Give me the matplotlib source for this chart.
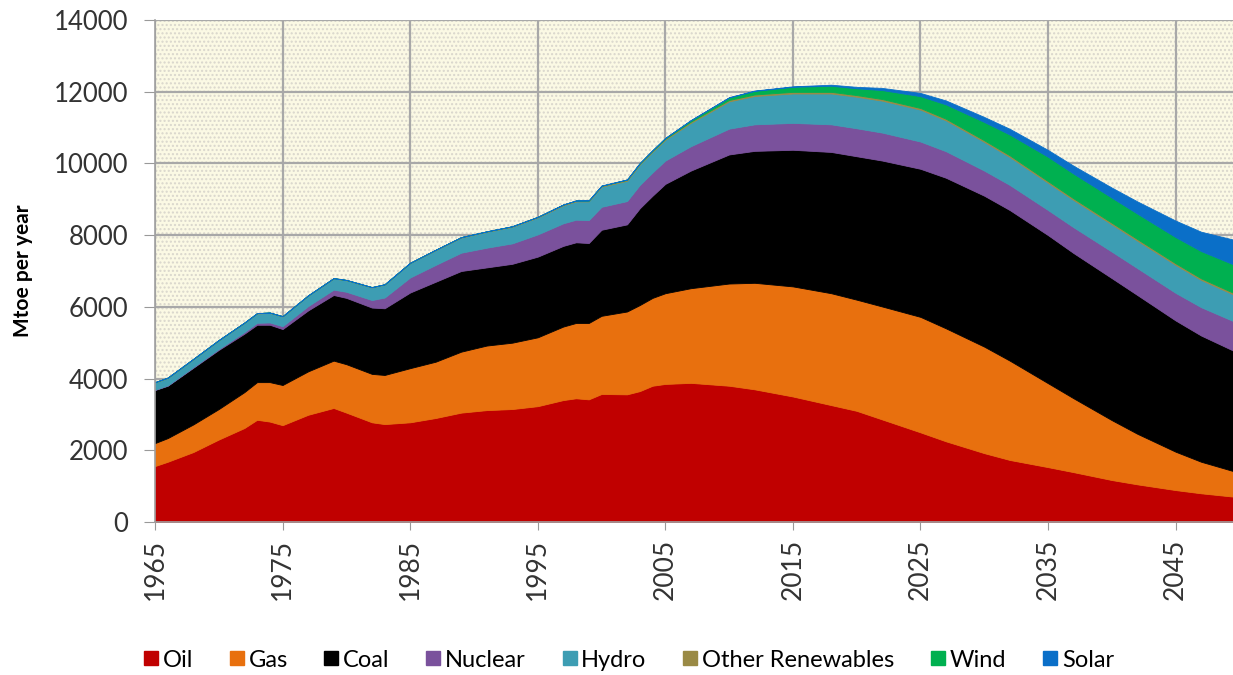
import matplotlib
matplotlib.use('agg')
import matplotlib.pyplot as plt
from matplotlib.patches import Rectangle
from matplotlib.lines import Line2D

plt.rcParams['font.family'] = ['Lato', 'DejaVu Sans']

# years the values were read at
years = [1965, 1966, 1968, 1970, 1972, 1973, 1974, 1975, 1977, 1979, 1980, 1982, 1983,
         1985, 1987, 1989, 1991, 1993, 1995, 1997, 1998, 1999, 2000, 2002, 2003, 2004,
         2005, 2007, 2010, 2012, 2015, 2018, 2020, 2022, 2025, 2027, 2030, 2032, 2035,
         2037, 2040, 2042, 2045, 2047, 2050]

# Mtoe per year, each series on its own (stacked in the plot)
oil = [1560, 1680, 1950, 2300, 2620, 2850, 2800, 2700, 2990, 3180, 3050, 2780, 2730,
       2780, 2900, 3050, 3120, 3150, 3230, 3400, 3450, 3420, 3570, 3560, 3650, 3800,
       3850, 3880, 3800, 3700, 3500, 3260, 3100, 2860, 2500, 2250, 1920, 1730, 1530,
       1390, 1170, 1050, 890, 800, 690]
gas = [640, 660, 770, 850, 1000, 1050, 1100, 1120, 1210, 1320, 1350, 1350, 1370,
       1510, 1570, 1700, 1800, 1850, 1920, 2050, 2100, 2130, 2180, 2310, 2400, 2450,
       2530, 2640, 2850, 2970, 3070, 3120, 3100, 3150, 3220, 3150, 2970, 2770, 2340,
       2060, 1670, 1410, 1070, 880, 680]
coal = [1480, 1460, 1580, 1650, 1630, 1600, 1600, 1560, 1700, 1830, 1850, 1850, 1860,
        2110, 2230, 2250, 2180, 2200, 2250, 2250, 2250, 2230, 2400, 2430, 2700, 2850,
        3050, 3280, 3600, 3680, 3810, 3940, 4000, 4070, 4130, 4200, 4210, 4200, 4130,
        4050, 3960, 3870, 3660, 3520, 3330]
nuclear = [10, 12, 18, 25, 45, 55, 65, 80, 120, 150, 170, 210, 300,
           420, 470, 510, 550, 570, 620, 630, 630, 640, 640, 650, 650, 650,
           650, 680, 720, 740, 750, 770, 780, 780, 760, 740, 700, 700, 700,
           720, 740, 750, 770, 790, 830]
hydro = [200, 205, 220, 240, 255, 260, 265, 270, 290, 310, 320, 350, 360,
         400, 410, 420, 440, 460, 470, 500, 510, 520, 560, 565, 570, 575,
         580, 650, 760, 790, 820, 860, 880, 890, 890, 860, 800, 780, 760,
         760, 760, 765, 780, 760, 740]
other = [10, 10, 10, 10, 10, 10, 10, 10, 10, 10, 10, 10, 10,
         10, 12, 14, 15, 17, 20, 22, 23, 24, 25, 27, 28, 29,
         30, 35, 40, 42, 45, 45, 45, 45, 45, 45, 45, 45, 45,
         45, 45, 45, 45, 45, 45]
wind = [0, 0, 0, 0, 0, 0, 0, 0, 0, 0, 0, 0, 0,
        0, 0, 0, 0, 0, 0, 2, 3, 4, 5, 10, 12, 15,
        20, 40, 70, 100, 140, 170, 190, 250, 330, 400, 510, 580, 680,
        690, 700, 710, 730, 760, 800]
solar = [0, 0, 0, 0, 0, 0, 0, 0, 0, 0, 0, 0, 0,
         0, 0, 0, 0, 0, 0, 0, 0, 0, 0, 0, 0, 0,
         0, 2, 5, 10, 15, 30, 40, 60, 90, 110, 140, 160, 190,
         220, 280, 340, 460, 540, 720]

labels = ["Oil", "Gas", "Coal", "Nuclear", "Hydro", "Other Renewables", "Wind", "Solar"]
colors = ["#C00000", "#E8700E", "#000000", "#7A519C", "#3D9DB3", "#9A8A45", "#00B050", "#0A6FC8"]

fig = plt.figure(figsize=(12.33, 6.75), dpi=100)
ax = fig.add_axes([0.1257, 0.2267, 0.8743, 0.7437])

# cream background with a fine dot texture, like the original
ax.set_facecolor('#fbf9e4')
bg = Rectangle((0, 0), 1, 1, transform=ax.transAxes, facecolor='none',
               edgecolor='#d9d6cc', hatch='....', lw=0, zorder=0)
ax.add_patch(bg)

polys = ax.stackplot(years, oil, gas, coal, nuclear, hydro, other, wind, solar,
                     colors=colors, zorder=2)
for p in polys:
    p.set_edgecolor(p.get_facecolor())
    p.set_linewidth(0.6)

ax.set_xlim(1965, 2049.5)
ax.set_ylim(0, 14000)
ax.set_xticks(range(1965, 2050, 10))
ax.set_yticks(range(0, 14001, 2000))
ax.tick_params(axis='x', labelsize=19, rotation=90, length=6, color='#999999',
               labelcolor='#333333', pad=6)
ax.tick_params(axis='y', labelsize=18.5, length=8, color='#999999', labelcolor='#333333',
               pad=11)

ax.grid(True, color='#a8a8a8', lw=1.6)
ax.set_axisbelow(True)
for s in ['top', 'right']:
    ax.spines[s].set_visible(False)
for s in ['left', 'bottom']:
    ax.spines[s].set_color('#a0a0a0')
    ax.spines[s].set_linewidth(1.2)

ax.set_ylabel("Mtoe per year", fontsize=15, fontweight='bold', labelpad=15)

handles = [Line2D([], [], marker='s', ls='none', markersize=10, color=c) for c in colors]
fig.legend(handles, labels, loc='center', bbox_to_anchor=(0.509, 0.022), ncol=8,
           frameon=False, fontsize=17, handletextpad=0.1, columnspacing=1.45,
           handlelength=0.8)

plt.savefig("out.png", dpi=100)
